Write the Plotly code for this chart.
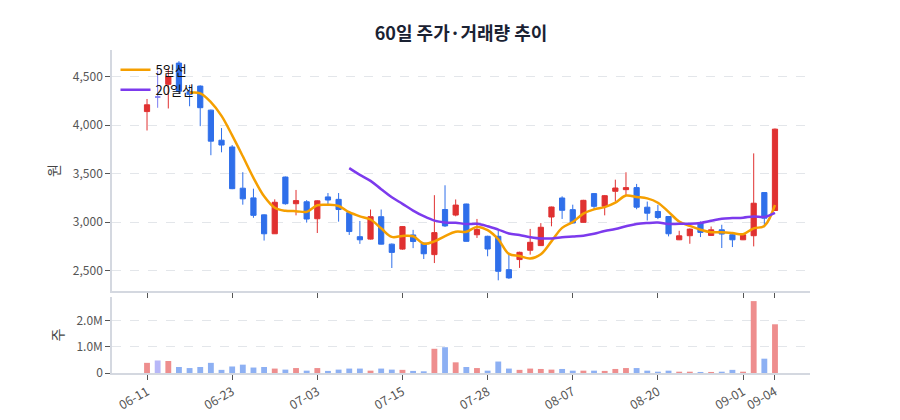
import plotly.graph_objects as go
import pandas as pd

dates = ["06-11","06-12","06-13","06-16","06-17","06-18","06-19","06-20","06-23","06-24",
         "06-25","06-26","06-27","06-30","07-01","07-02","07-03","07-04","07-07","07-08",
         "07-09","07-10","07-11","07-14","07-15","07-16","07-17","07-18","07-21","07-22",
         "07-23","07-25","07-28","07-29","07-30","07-31","08-01","08-04","08-05","08-06",
         "08-07","08-08","08-11","08-12","08-13","08-14","08-18","08-19","08-20","08-21",
         "08-22","08-25","08-26","08-27","08-28","08-29","09-01","09-02","09-03","09-04"]

opens = [4140,4290,4421,4640,4345,4403,4155,3845,3775,3350,
         3250,3075,2880,3465,3190,3210,3035,3260,3235,3097,
         2850,2825,3056,2773,2722,2868,2783,2665,3130,3073,
         3187,2870,2854,2854,2510,2614,2710,2758,3053,3249,
         3129,2998,3294,3163,3318,3335,3356,3154,3110,3058,
         2818,2860,2990,2863,2921,2870,2818,2860,3305,3120]
highs = [4270,4560,4586,4660,4415,4410,4160,3970,3795,3515,
         3345,3080,3235,3470,3332,3227,3225,3300,3300,3100,
         3012,3130,3130,2780,2960,2920,2790,3278,3380,3234,
         3190,3033,2860,2912,2672,2695,2930,2990,3160,3266,
         3180,3230,3300,3280,3438,3514,3394,3212,3178,3062,
         2911,2935,3007,2955,2973,2875,2880,3709,3310,3965]
lows = [3945,4179,4172,4330,4195,3990,3690,3720,3340,3180,
        3045,2810,2878,3180,3070,2995,2888,3175,3005,2868,
        2776,2820,2770,2527,2715,2732,2620,2578,2950,3060,
        2800,2837,2648,2400,2415,2528,2665,2755,2957,3033,
        2985,2995,3130,3070,3215,3270,3133,3017,3031,2853,
        2815,2777,2846,2858,2733,2743,2815,2750,2948,3115]
closes = [4210,4290,4500,4350,4318,4180,3835,3795,3345,3240,
          3070,2880,3205,3190,3222,3032,3220,3228,3130,2903,
          2818,3056,2773,2688,2954,2800,2674,2892,2961,3176,
          2802,2923,2723,2493,2425,2689,2792,2947,3156,3122,
          2991,3225,3163,3273,3352,3356,3154,3092,3048,2880,
          2859,2928,2894,2921,2877,2818,2870,3195,3041,3959]
volumes = [390000,480000,460000,230000,190000,230000,390000,120000,250000,320000,
           210000,230000,170000,130000,190000,90000,190000,80000,130000,170000,
           170000,90000,170000,130000,120000,80000,65000,930000,990000,410000,
           230000,190000,90000,440000,170000,120000,170000,155000,130000,155000,
           90000,90000,90000,80000,155000,190000,190000,90000,50000,90000,
           50000,50000,40000,40000,50000,120000,50000,2760000,550000,1870000]

tick_dates = ["06-11","06-23","07-03","07-15","07-28","08-07","08-20","09-01","09-04"]

UP = "#e03131"
DOWN = "#2f6fea"
FLAT = "#7c7cf2"

df = pd.DataFrame({"date": dates, "open": opens, "high": highs, "low": lows,
                   "close": closes, "volume": volumes})
ma5 = df["close"].rolling(5).mean()
ma20 = df["close"].rolling(20).mean()

flat = df["open"] == df["close"]
main = df.mask(flat)
main["date"] = df["date"]
flat_df = df[flat]

vol_colors = []
for o, c in zip(opens, closes):
    if c > o:
        vol_colors.append("rgba(224,49,49,0.55)")
    elif c < o:
        vol_colors.append("rgba(47,111,234,0.55)")
    else:
        vol_colors.append("rgba(124,124,242,0.55)")

fig = go.Figure()
fig.add_trace(go.Candlestick(
    x=main["date"], open=main["open"], high=main["high"], low=main["low"], close=main["close"],
    increasing=dict(line=dict(color=UP, width=1), fillcolor=UP),
    decreasing=dict(line=dict(color=DOWN, width=1), fillcolor=DOWN),
    whiskerwidth=0, showlegend=False, xaxis="x", yaxis="y", hoverinfo="skip"))
fig.add_trace(go.Candlestick(
    x=flat_df["date"], open=flat_df["open"], high=flat_df["high"], low=flat_df["low"],
    close=flat_df["close"],
    increasing=dict(line=dict(color=FLAT, width=1), fillcolor=FLAT),
    decreasing=dict(line=dict(color=FLAT, width=1), fillcolor=FLAT),
    whiskerwidth=0, showlegend=False, xaxis="x", yaxis="y", hoverinfo="skip"))
fig.add_trace(go.Scatter(x=dates, y=ma5, mode="lines", name="5일선",
                         line=dict(color="#f59f00", width=2.5, shape="spline", smoothing=1),
                         xaxis="x", yaxis="y"))
fig.add_trace(go.Scatter(x=dates, y=ma20, mode="lines", name="20일선",
                         line=dict(color="#7c3aed", width=2.5, shape="spline", smoothing=1),
                         xaxis="x", yaxis="y"))
fig.add_trace(go.Bar(x=dates, y=volumes, marker=dict(color=vol_colors, line=dict(width=0)),
                     width=0.55, showlegend=False, xaxis="x2", yaxis="y2"))

FONT = "Noto Sans CJK KR"
axis_common = dict(showline=True, linecolor="#d4d8e0", linewidth=1.5,
                   ticks="outside", ticklen=5, tickcolor="#555", tickwidth=1)
xr = [-3.29, 62.29]

fig.update_layout(
    width=900, height=420,
    margin=dict(l=104, r=98, t=42, b=54.5),
    paper_bgcolor="white", plot_bgcolor="white",
    font=dict(family=FONT, size=12, color="#444"),
    title=dict(text="<b>60일 주가·거래량 추이</b>", x=0.5, xref="paper", xanchor="center",
               y=0.94, yref="container", yanchor="middle",
               font=dict(family=FONT, size=18, color="#1a2233")),
    showlegend=True,
    legend=dict(x=0.005, y=0.985, xref="paper", yref="paper", xanchor="left", yanchor="top",
                bgcolor="rgba(0,0,0,0)", font=dict(family=FONT, size=13, color="#111"),
                tracegroupgap=0),
    xaxis=dict(type="category", categoryorder="array", categoryarray=dates, range=xr,
               domain=[0, 1], anchor="y", matches="x2", showticklabels=False,
               tickmode="array", tickvals=tick_dates, showgrid=False,
               rangeslider=dict(visible=False), **axis_common),
    yaxis=dict(domain=[0.253, 1], range=[2287, 4775], tickformat=",", anchor="x",
               tickvals=[2500, 3000, 3500, 4000, 4500],
               showgrid=True, gridcolor="#e3e6ea", griddash="dash", gridwidth=1,
               zeroline=False, title=dict(text="원", font=dict(size=14, color="#444"), standoff=10),
               tickfont=dict(size=12, color="#555"), **axis_common),
    xaxis2=dict(type="category", categoryorder="array", categoryarray=dates, range=xr,
                domain=[0, 1], anchor="y2", tickmode="array", tickvals=tick_dates,
                ticktext=tick_dates, tickangle=-30, showgrid=False,
                tickfont=dict(size=12.5, color="#555"), **axis_common),
    yaxis2=dict(domain=[0, 0.2355], range=[0, 2.92e6], anchor="x2",
                tickvals=[0, 1e6, 2e6], ticktext=["0", "1.0M", "2.0M"],
                showgrid=True, gridcolor="#e3e6ea", griddash="dash", gridwidth=1,
                zeroline=False, title=dict(text="주", font=dict(size=14, color="#444"), standoff=10),
                tickfont=dict(size=12, color="#555"), **axis_common),
    bargap=0.45,
)

fig.write_html("out.html")
